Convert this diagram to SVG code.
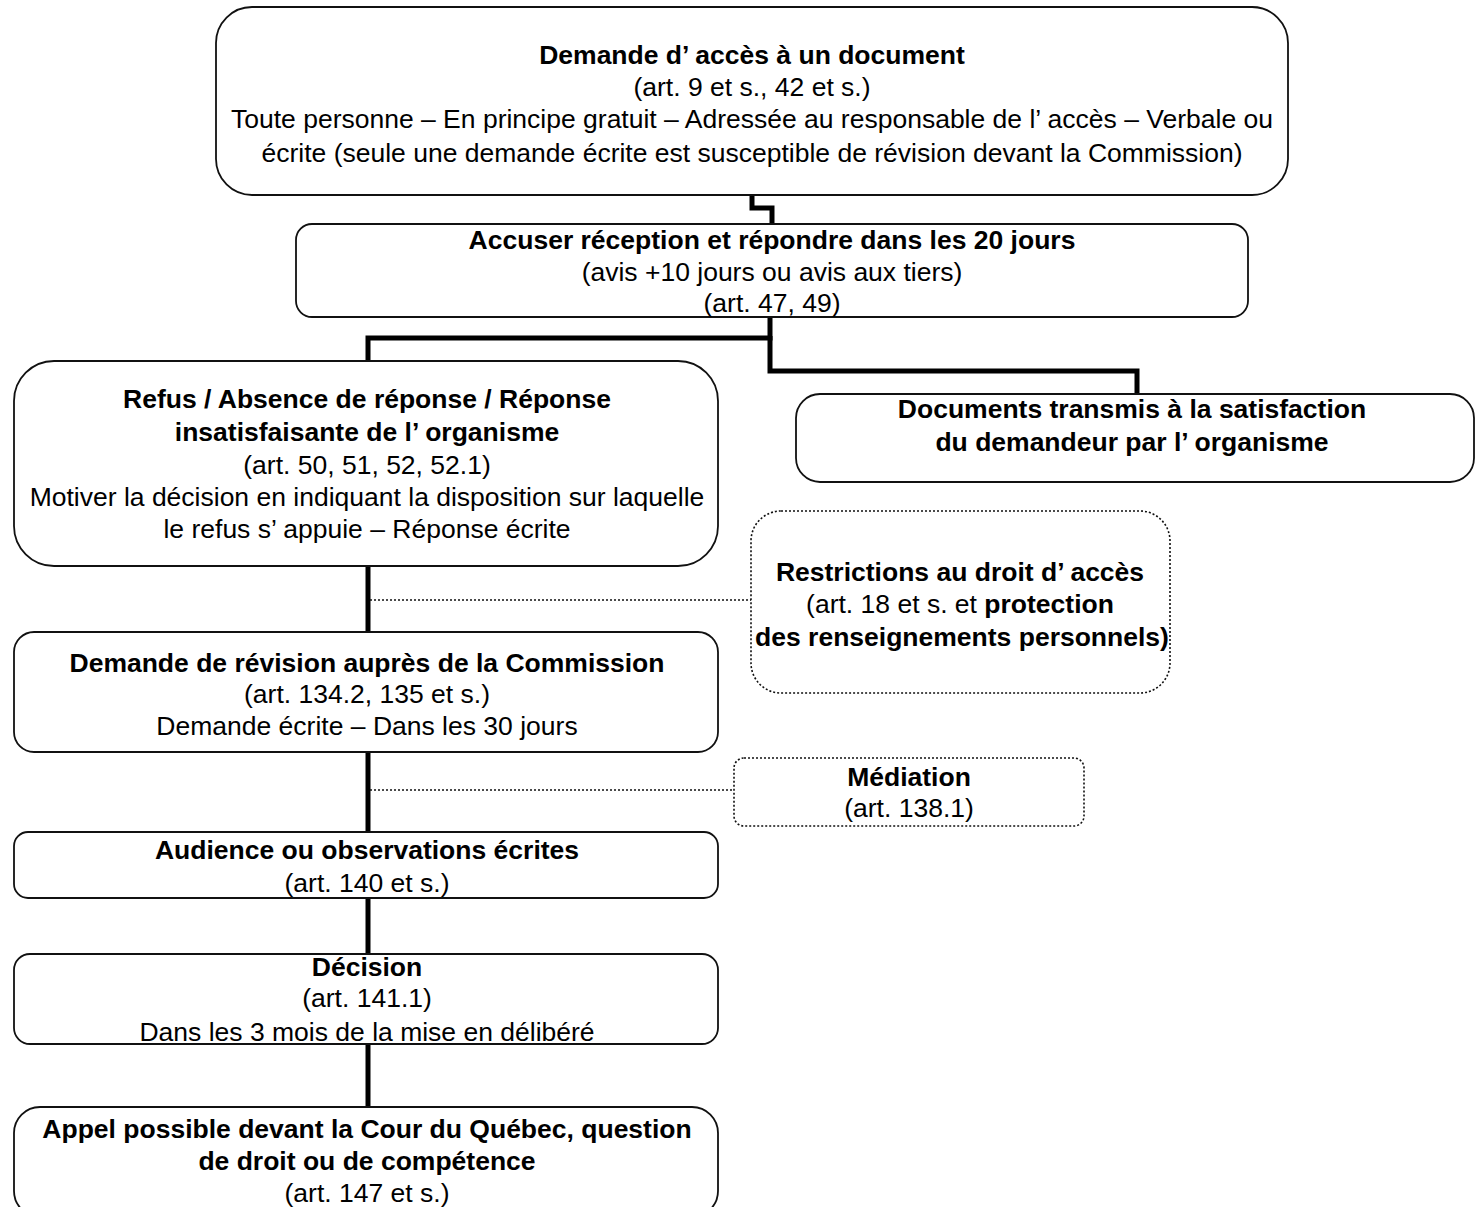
<svg xmlns="http://www.w3.org/2000/svg" width="1476" height="1207" viewBox="0 0 1476 1207">
<style>
.box{fill:#fff;stroke:#111;stroke-width:1.8}
.dot{fill:#fff;stroke:#111;stroke-width:1.6;stroke-dasharray:2 2}
.con{fill:none;stroke:#000;stroke-width:5}
.dl{fill:none;stroke:#111;stroke-width:1.6;stroke-dasharray:2 2}
text{font-family:"Liberation Sans",Arial,sans-serif;font-size:26.5px;fill:#000;text-anchor:middle}
.b{font-weight:bold}
</style>
<rect width="1476" height="1207" fill="#fff"/>
<g id="connectors">
<path class="con" d="M752,195 V208 H772 V224"/>
<path class="con" d="M770,317 V338 H368 V361"/>
<path class="con" d="M770,336 V371 H1137 V394"/>
<path class="con" d="M368,566 V632"/>
<path class="con" d="M368,752 V832"/>
<path class="con" d="M368,898 V954"/>
<path class="con" d="M368,1044 V1107"/>
<path class="dl" d="M370,600 H751"/>
<path class="dl" d="M370,790 H734"/>
</g>
<g id="n1">
<rect class="box" x="216" y="7" width="1072" height="188" rx="36"/>
<text x="752" y="64" class="b">Demande d’ accès à un document</text>
<text x="752" y="96">(art. 9 et s., 42 et s.)</text>
<text x="752" y="128">Toute personne – En principe gratuit – Adressée au responsable de l’ accès – Verbale ou</text>
<text x="752" y="162">écrite (seule une demande écrite est susceptible de révision devant la Commission)</text>
</g>
<g id="n2">
<rect class="box" x="296" y="224" width="952" height="93" rx="16"/>
<text x="772" y="249" class="b">Accuser réception et répondre dans les 20 jours</text>
<text x="772" y="281">(avis +10 jours ou avis aux tiers)</text>
<text x="772" y="312">(art. 47, 49)</text>
</g>
<g id="n3">
<rect class="box" x="14" y="361" width="704" height="205" rx="40"/>
<text x="367" y="408" class="b">Refus / Absence de réponse / Réponse</text>
<text x="367" y="441" class="b">insatisfaisante de l’ organisme</text>
<text x="367" y="474">(art. 50, 51, 52, 52.1)</text>
<text x="367" y="506">Motiver la décision en indiquant la disposition sur laquelle</text>
<text x="367" y="538">le refus s’ appuie – Réponse écrite</text>
</g>
<g id="n4">
<rect class="box" x="796" y="394" width="678" height="88" rx="24"/>
<text x="1132" y="418" class="b">Documents transmis à la satisfaction</text>
<text x="1132" y="451" class="b">du demandeur par l’ organisme</text>
</g>
<g id="n5">
<rect class="dot" x="751" y="511" width="419" height="182" rx="30"/>
<text x="960" y="581" class="b">Restrictions au droit d’ accès</text>
<text x="960" y="613">(art. 18 et s. et <tspan class="b">protection</tspan></text>
<text x="962" y="646" class="b">des renseignements personnels)</text>
</g>
<g id="n6">
<rect class="box" x="14" y="632" width="704" height="120" rx="20"/>
<text x="367" y="672" class="b">Demande de révision auprès de la Commission</text>
<text x="367" y="703">(art. 134.2, 135 et s.)</text>
<text x="367" y="735">Demande écrite – Dans les 30 jours</text>
</g>
<g id="n7">
<rect class="dot" x="734" y="758" width="350" height="68" rx="10"/>
<text x="909" y="786" class="b">Médiation</text>
<text x="909" y="817">(art. 138.1)</text>
</g>
<g id="n8">
<rect class="box" x="14" y="832" width="704" height="66" rx="14"/>
<text x="367" y="859" class="b">Audience ou observations écrites</text>
<text x="367" y="892">(art. 140 et s.)</text>
</g>
<g id="n9">
<rect class="box" x="14" y="954" width="704" height="90" rx="16"/>
<text x="367" y="976" class="b">Décision</text>
<text x="367" y="1007">(art. 141.1)</text>
<text x="367" y="1041">Dans les 3 mois de la mise en délibéré</text>
</g>
<g id="n10">
<rect class="box" x="14" y="1107" width="704" height="110" rx="26"/>
<text x="367" y="1138" class="b">Appel possible devant la Cour du Québec, question</text>
<text x="367" y="1170" class="b">de droit ou de compétence</text>
<text x="367" y="1202">(art. 147 et s.)</text>
</g>
</svg>
